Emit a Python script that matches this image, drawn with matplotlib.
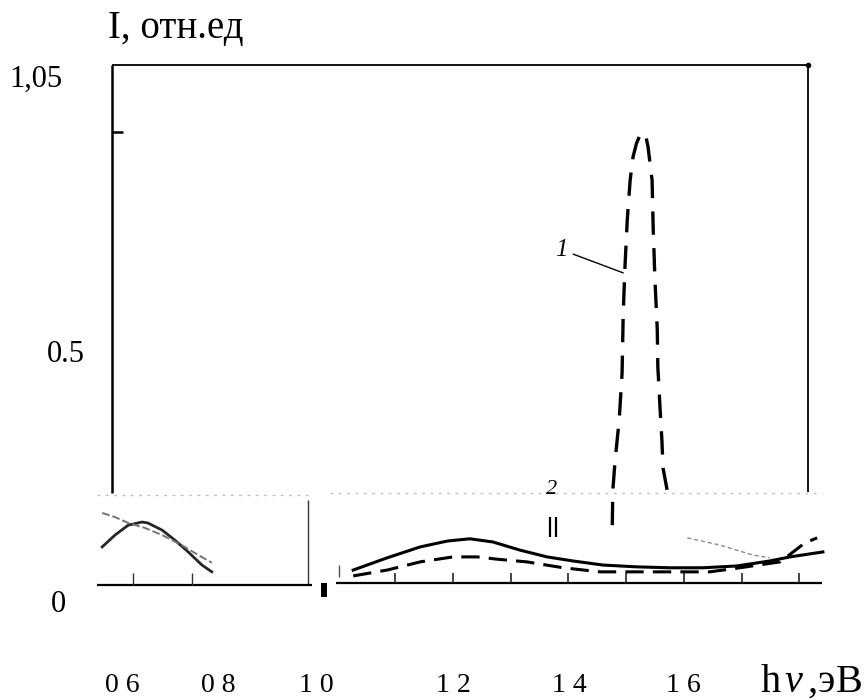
import numpy as np
import matplotlib
matplotlib.use("Agg")
import matplotlib.pyplot as plt

plt.rcParams['font.family'] = ['Liberation Serif', 'DejaVu Serif']
plt.rcParams['mathtext.fontset'] = 'custom'
plt.rcParams['mathtext.rm'] = 'Liberation Serif'
plt.rcParams['mathtext.it'] = 'Liberation Serif:italic'

# ==========================================
# Data
# ==========================================
# curve 1: tall dashed peak
curve1_E = [1.476, 1.477, 1.481, 1.488, 1.493, 1.495, 1.498, 1.502, 1.507, 1.512,
            1.518, 1.524, 1.533, 1.538, 1.545, 1.547, 1.550, 1.554, 1.555, 1.559,
            1.562, 1.564, 1.571]
curve1_I = [0.132, 0.210, 0.276, 0.364, 0.468, 0.600, 0.702, 0.806, 0.894, 0.945,
            0.975, 0.993, 0.998, 0.967, 0.894, 0.784, 0.673, 0.563, 0.481, 0.386,
            0.320, 0.258, 0.210]

# right inset: solid and dashed curves
solid_E = [1.027, 1.086, 1.143, 1.190, 1.229, 1.269, 1.316, 1.363, 1.408, 1.460,
           1.519, 1.576, 1.633, 1.692, 1.749, 1.784, 1.841]
solid_I = [0.033, 0.060, 0.084, 0.097, 0.102, 0.095, 0.077, 0.062, 0.053, 0.044,
           0.040, 0.038, 0.038, 0.042, 0.053, 0.062, 0.073]

dash_E = [1.027, 1.086, 1.143, 1.200, 1.242, 1.276, 1.328, 1.391, 1.455, 1.524,
          1.593, 1.645, 1.697, 1.767, 1.810, 1.831]
dash_I = [0.020, 0.033, 0.051, 0.062, 0.062, 0.057, 0.051, 0.038, 0.029, 0.029,
          0.029, 0.029, 0.038, 0.051, 0.093, 0.104]

faint_E = [1.606, 1.663, 1.720, 1.749]
faint_I = [0.104, 0.088, 0.066, 0.060]

# left inset: two curves
leftA_E = [0.592, 0.614, 0.637, 0.661, 0.671, 0.696, 0.718, 0.741, 0.765, 0.782]
leftA_I = [0.084, 0.110, 0.132, 0.139, 0.137, 0.121, 0.099, 0.073, 0.044, 0.029]

leftB_E = [0.592, 0.614, 0.637, 0.666, 0.696, 0.730, 0.752, 0.782]
leftB_I = [0.159, 0.150, 0.137, 0.126, 0.110, 0.088, 0.071, 0.049]

ytick_labels = ["1,05", "0.5", "0"]
xtick_labels = ["0 6", "0 8", "1 0", "1 2", "1 4", "1 6"]
right_ticks = [1.1, 1.2, 1.3, 1.4, 1.5, 1.6, 1.7, 1.8]
left_ticks = [0.645, 0.748]

# ==========================================
# Figure
# ==========================================
fig = plt.figure(figsize=(8.68, 7.0), dpi=100)
ax = fig.add_axes([0, 0, 1, 1])
ax.set_xlim(0.4149, 1.9192)
ax.set_ylim(-0.2539, 1.2914)
ax.axis('off')

# main frame
ax.vlines(0.609, 0.203, 1.148, color='black', lw=1.8)
ax.hlines(1.148, 0.609, 1.815, color='black', lw=1.3)
ax.vlines(1.815, 0.205, 1.148, color='black', lw=1.3)
ax.hlines(1.0, 0.609, 0.628, color='black', lw=1.8)
ax.plot([1.815], [1.148], 'o', color='black', ms=3)

# left inset frame
ax.hlines(0.199, 0.583, 0.949, color='0.75', lw=1.0, linestyles=(0, (2, 4)))
ax.vlines(0.949, 0.0, 0.187, color='0.2', lw=1.0)
ax.hlines(0.0, 0.583, 0.956, color='black', lw=1.6)
ax.vlines(left_ticks, 0.0, 0.026, color='0.2', lw=1.0)

# right inset frame
ax.hlines(0.203, 0.987, 1.840, color='0.75', lw=1.0, linestyles=(0, (2, 4)))
ax.vlines(1.002, 0.018, 0.044, color='0.3', lw=1.0)
ax.hlines(0.004, 0.997, 1.840, color='black', lw=1.6)
ax.vlines(right_ticks, 0.004, 0.026, color='0.15', lw=1.2)
ax.fill_between([0.971, 0.981], -0.026, 0.004, color='black', lw=0)

# curves
ax.plot(curve1_E, curve1_I, color='black', lw=2.4, linestyle=(0, (7, 4)),
        solid_capstyle='butt')
ax.plot(solid_E, solid_I, color='black', lw=2.2)
ax.plot(dash_E, dash_I, color='black', lw=2.2, linestyle=(0, (6, 3)))
ax.plot(faint_E, faint_I, color='0.55', lw=1.0, linestyle=(0, (3, 2)))
ax.plot(leftA_E, leftA_I, color='0.15', lw=2.0)
ax.plot(leftB_E, leftB_I, color='0.45', lw=1.4, linestyle=(0, (4, 1.5)))

# curve labels
ax.annotate("1", xy=(1.495, 0.689), xytext=(1.399, 0.740),
            fontsize=18, fontstyle='italic', ha='right', va='center',
            arrowprops=dict(arrowstyle='-', color='black', lw=1.0,
                            shrinkA=2, shrinkB=0))
ax.text(1.371, 0.210, "2", fontsize=16, fontstyle='italic', ha='center', va='center')
ax.vlines([1.368, 1.378], 0.106, 0.150, color='black', lw=1.6)

# ==========================================
# Axis texts
# ==========================================
fig.text(108 / 868, 1 - 38 / 700, "I, отн.ед", fontsize=28, ha='left', va='baseline')

ylab_px = [(36, 79), (66, 355), (58, 605)]
for lab, (px, py) in zip(ytick_labels, ylab_px):
    fig.text(px / 868, 1 - py / 700, lab, fontsize=22, ha='center', va='center')

xlab_px = [122, 218, 316, 453, 569, 683]
for lab, px in zip(xtick_labels, xlab_px):
    fig.text(px / 868, 1 - 692 / 700, lab, fontsize=20, ha='center', va='baseline')

fig.text(862 / 868, 1 - 692 / 700, r"h$\,\nu\,$,эВ", fontsize=29,
         ha='right', va='baseline')

fig.savefig("out.png", dpi=100, facecolor='white')
